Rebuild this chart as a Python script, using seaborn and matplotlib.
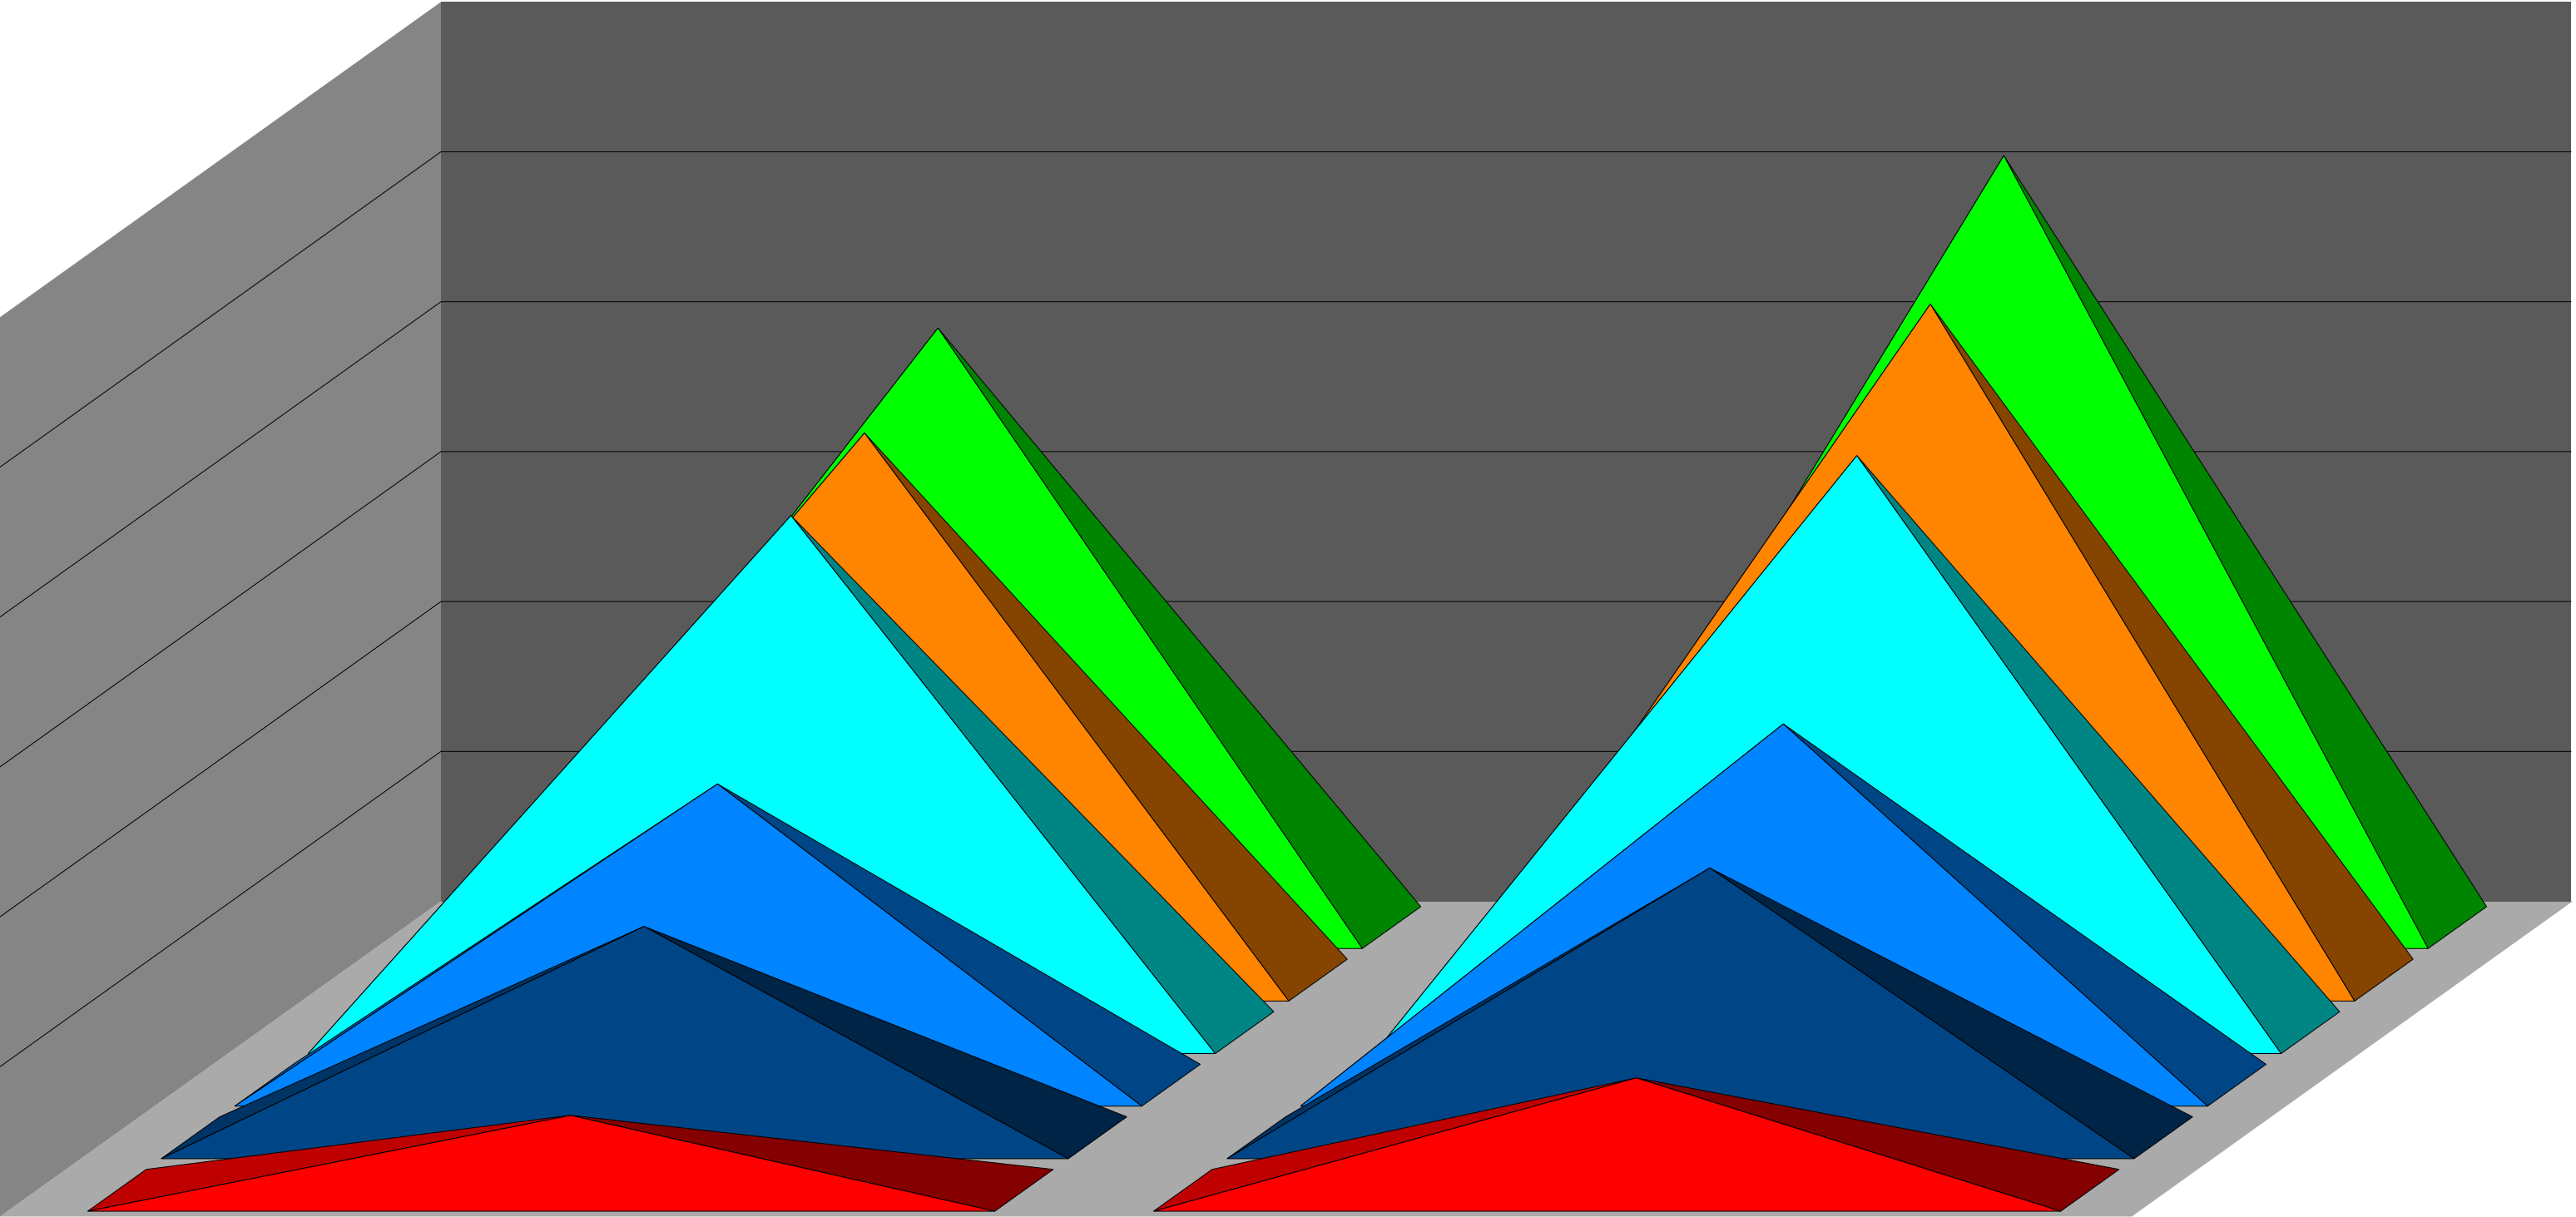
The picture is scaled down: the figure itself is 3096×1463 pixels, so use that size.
import pandas as pd
import matplotlib.pyplot as plt
import seaborn as sns

# one value per depth row, front row first
categories = ["A", "B"]
series_names = ["red", "navy", "blue", "cyan", "orange", "green"]
values_a = [0.50, 1.41, 2.01, 3.45, 3.65, 4.00]
values_b = [0.75, 1.80, 2.41, 3.85, 4.51, 5.15]
grid_levels = [1, 2, 3, 4, 5]

front_colors = ["#ff0000", "#004586", "#0084ff", "#00ffff", "#ff8400", "#00ff00"]
wall_back = "#5a5a5a"
wall_left = "#858585"
floor_color = "#aaaaaa"

W, H = 3096, 1463
CAT_PX = 1281.0     # width of one category
UNIT_PX = 180.2     # height of one value unit
DEPTH_X = 530.0 / CAT_PX
DEPTH_Y = 379.0 / UNIT_PX
HALF_W = 0.4255     # half the base width of a pyramid
SLOT_GAP = 0.017    # depth gap at each side of a row, as share of full depth
CENTER_NUDGE = 1.0 / CAT_PX
WALL_TRIM = 2.0 / CAT_PX  # back wall stops a little short of the floor corner
Y_MAX = 6
EDGE = 0.72


def project(x, y, depth):
    return x + depth * DEPTH_X, y + depth * DEPTH_Y


def shade(color, factor):
    r, g, b = sns.color_palette([color])[0]
    return (r * factor, g * factor, b * factor)


def draw_face(ax, points, color, zorder):
    xs, ys = zip(*points)
    ax.fill(xs, ys, facecolor=color, edgecolor="black", linewidth=EDGE,
            antialiased=True, zorder=zorder)


def draw_pyramid(ax, center, value, row, color, zorder):
    d0 = row / len(series_names) + SLOT_GAP
    d1 = (row + 1) / len(series_names) - SLOT_GAP
    front_l = project(center - HALF_W, 0, d0)
    front_r = project(center + HALF_W, 0, d0)
    back_l = project(center - HALF_W, 0, d1)
    back_r = project(center + HALF_W, 0, d1)
    apex = project(center, value, (d0 + d1) / 2)
    draw_face(ax, [front_l, back_l, apex], shade(color, 0.75), zorder)
    draw_face(ax, [front_r, back_r, apex], shade(color, 0.52), zorder)
    draw_face(ax, [front_l, front_r, apex], color, zorder)


sns.set_theme(style="white")
fig = plt.figure(figsize=(W / 100, H / 100), dpi=100, facecolor="white")
ax = fig.add_axes([0, 0, 1, 1])

n_cat = len(categories)
wall_end = n_cat - WALL_TRIM

# walls and floor
xs, ys = zip(project(0, 0, 0), project(n_cat, 0, 0), project(n_cat, 0, 1), project(0, 0, 1))
ax.fill(xs, ys, color=floor_color, linewidth=0, zorder=1)
xs, ys = zip(project(0, 0, 1), project(wall_end, 0, 1), project(wall_end, Y_MAX, 1), project(0, Y_MAX, 1))
ax.fill(xs, ys, color=wall_back, linewidth=0, zorder=1)
xs, ys = zip(project(0, 0, 0), project(0, 0, 1), project(0, Y_MAX, 1), project(0, Y_MAX, 0))
ax.fill(xs, ys, color=wall_left, linewidth=0, zorder=1)

# gridlines run along the left wall and then along the back wall
rows = []
for level in grid_levels:
    for x, depth in [(0, 0), (0, 1), (wall_end, 1)]:
        px, py = project(x, level, depth)
        rows.append({"level": level, "x": px, "y": py})
grid_df = pd.DataFrame(rows)
sns.lineplot(data=grid_df, x="x", y="y", units="level", estimator=None, sort=False,
             color="black", linewidth=EDGE, legend=False, zorder=2, ax=ax)

# back row first so the front rows cover it
z = 3
for row in reversed(range(len(series_names))):
    for i, vals in enumerate([values_a, values_b]):
        draw_pyramid(ax, i + 0.5 + CENTER_NUDGE, vals[row], row, front_colors[row], z)
        z += 1

ax.set_xlim(0, W / CAT_PX)
ax.set_ylim(-0.5 / UNIT_PX, (H - 0.5) / UNIT_PX)
ax.set_axis_off()

fig.savefig("out.png", dpi=100, facecolor="white")
plt.close(fig)
